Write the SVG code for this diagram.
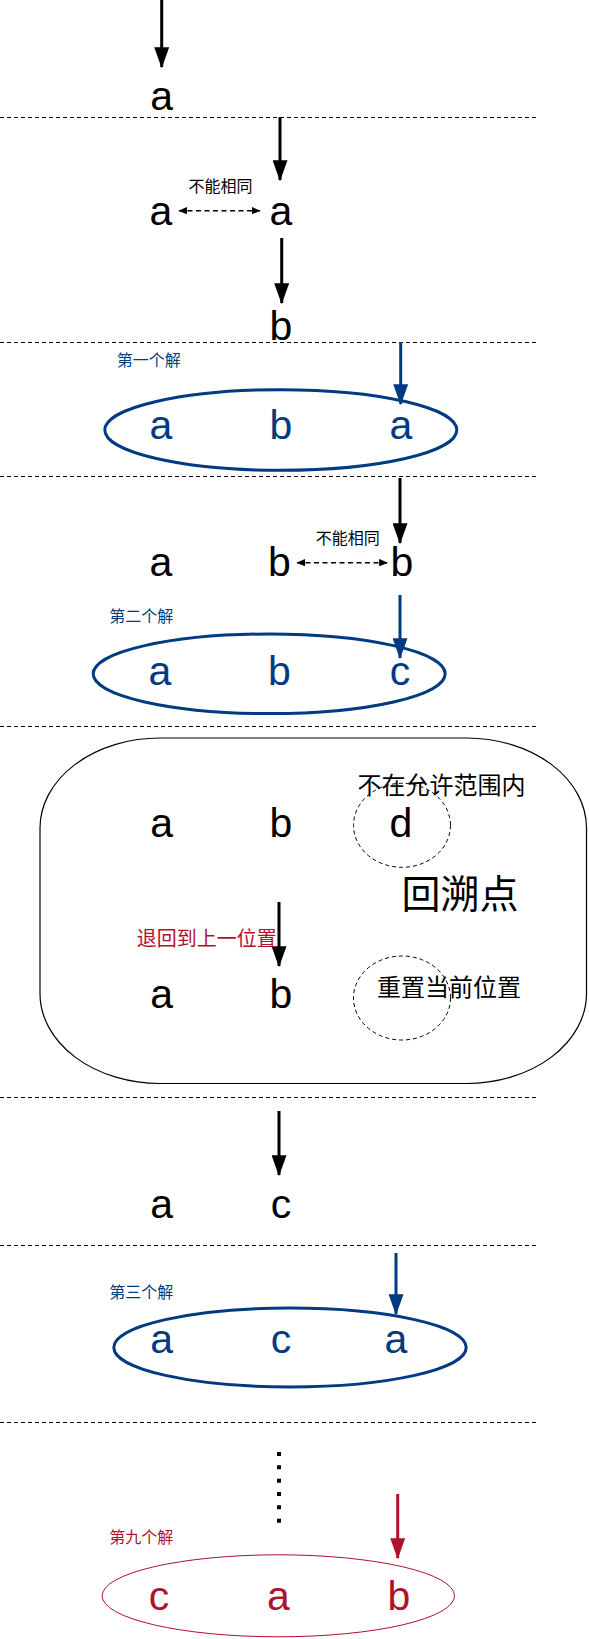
<svg xmlns="http://www.w3.org/2000/svg" width="589" height="1639" viewBox="0 0 589 1639">
<defs>
<marker id="ah" markerWidth="7" markerHeight="5" refX="6.6" refY="2.5" orient="auto" markerUnits="strokeWidth"><path d="M0,0 L7,2.5 L0,5 Z" fill="#000"/></marker>
<marker id="ahb" markerWidth="7" markerHeight="5" refX="6.6" refY="2.5" orient="auto" markerUnits="strokeWidth"><path d="M0,0 L7,2.5 L0,5 Z" fill="#003A80"/></marker>
<marker id="ahr" markerWidth="7" markerHeight="5" refX="6.6" refY="2.5" orient="auto" markerUnits="strokeWidth"><path d="M0,0 L7,2.5 L0,5 Z" fill="#B0112B"/></marker>
<marker id="sah" markerWidth="6" markerHeight="5" refX="5.6" refY="2.5" orient="auto-start-reverse" markerUnits="strokeWidth"><path d="M0,0 L6,2.5 L0,5 Z" fill="#000"/></marker>
<style>
.sep{stroke:#000;stroke-width:1;stroke-dasharray:4 3;fill:none}
.arr{stroke:#000;stroke-width:3;fill:none;marker-end:url(#ah)}
.arrb{stroke:#003A80;stroke-width:3;fill:none;marker-end:url(#ahb)}
.arrr{stroke:#B0112B;stroke-width:3;fill:none;marker-end:url(#ahr)}
.darr{stroke:#000;stroke-width:1.5;stroke-dasharray:5 3.5;fill:none;marker-start:url(#sah);marker-end:url(#sah)}
.big{font-family:"Liberation Sans",Arial,sans-serif;font-size:41px;text-anchor:middle}
.k{fill:#000}
.b{fill:#003A80}
.r{fill:#B0112B}
.cjk{font-family:"Noto Sans CJK SC","Liberation Sans",sans-serif;text-anchor:middle}
.s16{font-size:16px}
.ell{fill:none;stroke:#003A80;stroke-width:3}
.dc{fill:none;stroke:#000;stroke-width:1;stroke-dasharray:4 3}
</style>
</defs>

<g id="separators">
<line class="sep" x1="0" y1="117.5" x2="538" y2="117.5"/>
<line class="sep" x1="0" y1="342.5" x2="538" y2="342.5"/>
<line class="sep" x1="0" y1="476.5" x2="538" y2="476.5"/>
<line class="sep" x1="0" y1="726.5" x2="538" y2="726.5"/>
<line class="sep" x1="0" y1="1097.5" x2="538" y2="1097.5"/>
<line class="sep" x1="0" y1="1245.5" x2="538" y2="1245.5"/>
<line class="sep" x1="0" y1="1422.5" x2="538" y2="1422.5"/>
</g>

<g id="backtrack-box">
<path d="M160,738 L466.5,738 A120,90 0 0 1 586.5,828 L586.5,993.5 A120,90 0 0 1 466.5,1083.5 L160,1083.5 A120,90 0 0 1 40,993.5 L40,828 A120,90 0 0 1 160,738 Z" fill="none" stroke="#000" stroke-width="1.2"/>
</g>

<g id="ellipses">
<ellipse id="sol1" class="ell" cx="280.8" cy="430" rx="176" ry="40.3"/>
<ellipse id="sol2" class="ell" cx="269.2" cy="673.8" rx="176" ry="39.8"/>
<ellipse id="sol3" class="ell" cx="290" cy="1347.5" rx="176.2" ry="39.4"/>
<ellipse id="sol9" cx="278.3" cy="1595.8" rx="176.2" ry="41" fill="none" stroke="#B0112B" stroke-width="1"/>
<ellipse id="circle-d" class="dc" cx="402" cy="825.3" rx="48.5" ry="42"/>
<ellipse id="circle-reset" class="dc" cx="402" cy="998" rx="48.5" ry="42"/>
</g>

<g id="connectors">
<line class="arr" x1="161.7" y1="0" x2="161.7" y2="67"/>
<line class="arr" x1="280" y1="117" x2="280" y2="180"/>
<line class="arr" x1="281.7" y1="238" x2="281.7" y2="303"/>
<line class="arrb" x1="400.7" y1="342" x2="400.7" y2="404"/>
<line class="arr" x1="400" y1="478" x2="400" y2="543"/>
<line class="arrb" x1="400" y1="595" x2="400" y2="658"/>
<line class="arr" x1="279" y1="902" x2="279" y2="966"/>
<line class="arr" x1="279" y1="1111" x2="279" y2="1175"/>
<line class="arrb" x1="396" y1="1253" x2="396" y2="1314"/>
<line class="arrr" x1="397.7" y1="1494" x2="397.7" y2="1558"/>
<line class="darr" x1="179" y1="210.7" x2="260" y2="210.7"/>
<line class="darr" x1="297" y1="562.7" x2="387.5" y2="562.7"/>
<line x1="279" y1="1452" x2="279" y2="1523" stroke="#000" stroke-width="4" stroke-dasharray="4 9.33"/>
</g>

<g id="step1">
<text class="big k" x="161.7" y="110">a</text>
</g>
<g id="step2">
<text class="big k" x="161" y="225">a</text>
<text class="big k" x="281" y="225">a</text>
<text class="cjk s16 k" x="220.5" y="191.8">不能相同</text>
<text class="big k" x="281" y="340">b</text>
</g>
<g id="solution1">
<text class="cjk s16 b" x="148.8" y="366">第一个解</text>
<text class="big b" x="161" y="439">a</text>
<text class="big b" x="281" y="439">b</text>
<text class="big b" x="401" y="439">a</text>
</g>
<g id="step4">
<text class="big k" x="161" y="576">a</text>
<text class="big k" x="279.3" y="576">b</text>
<text class="big k" x="402" y="576">b</text>
<text class="cjk s16 k" x="347.8" y="544.4">不能相同</text>
</g>
<g id="solution2">
<text class="cjk s16 b" x="141.3" y="622">第二个解</text>
<text class="big b" x="160" y="685">a</text>
<text class="big b" x="279.3" y="685">b</text>
<text class="big b" x="400" y="685">c</text>
</g>
<g id="backtrack">
<text class="big k" x="161.7" y="836.5">a</text>
<text class="big k" x="281" y="836.5">b</text>
<text class="big k" x="401" y="836.5">d</text>
<text class="cjk k" x="441.5" y="794" font-size="24">不在允许范围内</text>
<text class="cjk k" x="460" y="907.5" font-size="39">回溯点</text>
<text class="cjk r" x="206.7" y="946" font-size="20">退回到上一位置</text>
<text class="big k" x="161.7" y="1008.3">a</text>
<text class="big k" x="281" y="1008.3">b</text>
<text class="cjk k" x="449" y="995.8" font-size="24">重置当前位置</text>
</g>
<g id="step6">
<text class="big k" x="161.7" y="1218.3">a</text>
<text class="big k" x="281" y="1218.3">c</text>
</g>
<g id="solution3">
<text class="cjk s16 b" x="141.3" y="1297.8">第三个解</text>
<text class="big b" x="161.7" y="1353.3">a</text>
<text class="big b" x="281" y="1353.3">c</text>
<text class="big b" x="396" y="1353.3">a</text>
</g>
<g id="solution9">
<text class="cjk s16 r" x="141.3" y="1543.4">第九个解</text>
<text class="big r" x="159" y="1610">c</text>
<text class="big r" x="278.3" y="1610">a</text>
<text class="big r" x="399" y="1610">b</text>
</g>
</svg>
